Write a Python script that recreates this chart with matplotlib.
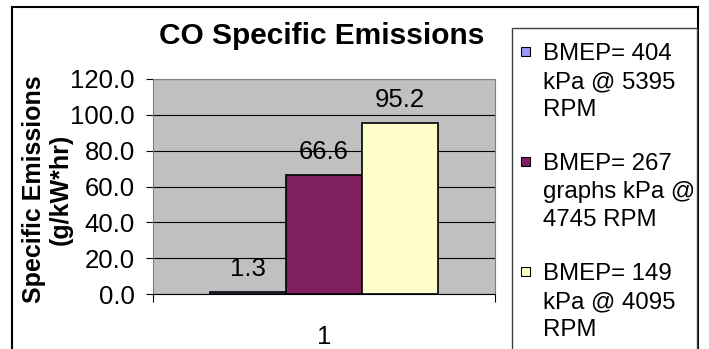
import matplotlib
matplotlib.use("Agg")
import matplotlib.pyplot as plt
from matplotlib.patches import Rectangle

plt.rcParams["font.family"] = ["Liberation Sans", "DejaVu Sans"]

# Данные диаграммы
categories = ["1"]
series_labels = [
    ["BMEP= 404", "kPa @ 5395", "RPM"],
    ["BMEP= 267", "graphs kPa @", "4745 RPM"],
    ["BMEP= 149", "kPa @ 4095", "RPM"],
]
series_values = [1.3, 66.6, 95.2]
series_colors = ["#9999FF", "#7F1F5F", "#FFFFCC"]
y_ticks = [0, 20, 40, 60, 80, 100, 120]

W, H = 709, 349
fig = plt.figure(figsize=(W / 100, H / 100), dpi=100)
fig.patch.set_facecolor("white")


def px(x, y):
    """Пиксели (от левого верхнего угла) -> координаты фигуры."""
    return x / W, 1 - y / H


# Внешняя рамка диаграммы (низ уходит за край)
fig.add_artist(Rectangle(px(12, 360), (698 - 12) / W, (360 - 7) / H,
                         transform=fig.transFigure, fill=False,
                         edgecolor="black", linewidth=1.5))

# Область построения
left, right, top, bottom = 153, 495, 79, 294
ax = fig.add_axes([left / W, 1 - bottom / H, (right - left) / W, (bottom - top) / H])
ax.set_facecolor("#C0C0C0")

n = len(series_values)
group = 2 / 3
bw = group / n
for i, (val, col) in enumerate(zip(series_values, series_colors)):
    xpos = -group / 2 + bw * (i + 0.5)
    ax.bar(xpos, val, width=bw, color=col, edgecolor="black", linewidth=1.2, zorder=3)
    ax.annotate(f"{val:.1f}", (xpos, val), xytext=(0, 11.5), textcoords="offset points",
                ha="center", va="baseline", fontsize=18.5, zorder=4)

ax.set_xlim(-0.5, 0.5)
ax.set_ylim(0, 120)
ax.set_yticks(y_ticks)
ax.set_yticklabels([f"{t:.1f}" for t in y_ticks], fontsize=18.5)
ax.yaxis.grid(True, color="black", linewidth=0.8, zorder=0)
ax.tick_params(axis="y", length=5, width=0.8, pad=8)

# Метки по оси X: подпись категории и засечки на границах
ax.set_xticks([-0.5, 0.5])
ax.set_xticklabels(["", ""])
ax.set_xticks([0], minor=True)
ax.set_xticklabels(categories, minor=True, fontsize=18.5)
ax.tick_params(axis="x", which="major", length=6, width=0.8, direction="out")
ax.tick_params(axis="x", which="minor", length=0, pad=22)

for s in ["top", "right", "left"]:
    ax.spines[s].set_color("#808080")
ax.spines["bottom"].set_color("black")

# Заголовок и подпись оси Y
tx, ty = px(322, 36)
fig.text(tx, ty, "CO Specific Emissions", fontsize=21.5, fontweight="bold",
         ha="center", va="center")
lx, ly = px(47, 189)
fig.text(lx, ly, "Specific Emissions\n(g/kW*hr)", fontsize=18, fontweight="bold",
         rotation=90, ha="center", va="center", multialignment="center",
         linespacing=1.15)

# Легенда справа
fig.add_artist(Rectangle(px(512, 360), (697 - 512) / W, (360 - 28) / H,
                         transform=fig.transFigure, facecolor="white",
                         edgecolor="#404040", linewidth=1))
for i, (lines, col) in enumerate(zip(series_labels, series_colors)):
    base = 60 + 110 * i
    mx, my = px(521, base - 4)
    fig.add_artist(Rectangle((mx, my), 9 / W, 9 / H, transform=fig.transFigure,
                             facecolor=col, edgecolor="black", linewidth=0.8))
    for j, line in enumerate(lines):
        tx, ty = px(543, base + 28 * j)
        fig.text(tx, ty, line, fontsize=17.3, va="baseline", ha="left")

fig.savefig("out.png", dpi=100)
